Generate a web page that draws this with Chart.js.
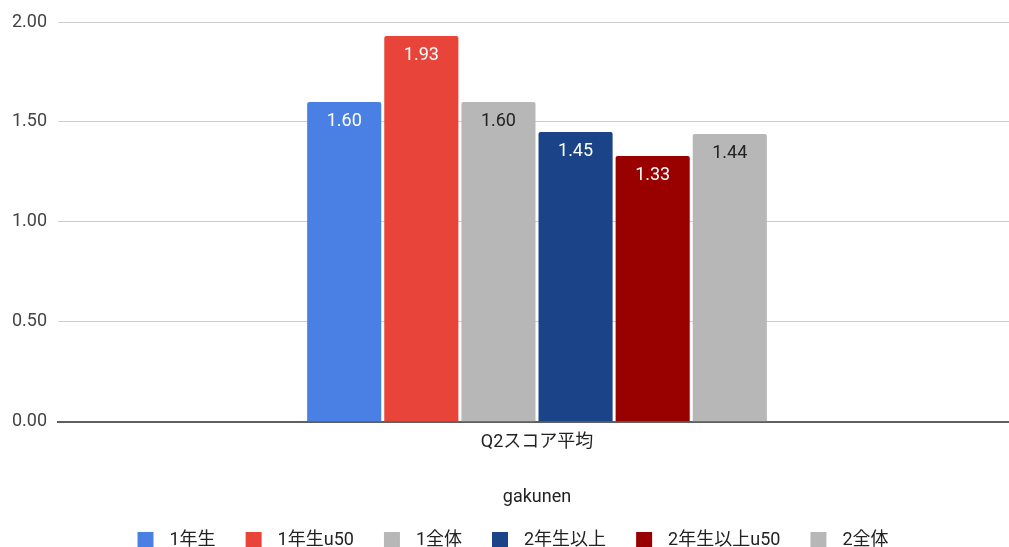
<!DOCTYPE html>
<html lang="ja">
  <head>
    <meta charset="UTF-8" />
    <title>Q2スコア平均</title>
    <script src="https://cdn.jsdelivr.net/npm/chart.js"></script>
    <style>
      html, body { margin: 0; padding: 0; background: #fff; overflow: hidden; }
      /* a bit wider than the window so the group sits where the reference has it */
      #wrap { width: 1016px; height: 547px; }
    </style>
  </head>
  <body>
    <div id="wrap"><canvas id="chart"></canvas></div>

    <script>
      // data
      const categories = ["Q2スコア平均"];
      const seriesNames = ["1年生", "1年生u50", "1全体", "2年生以上", "2年生以上u50", "2全体"];
      const seriesValues = [1.60, 1.93, 1.60, 1.45, 1.33, 1.44];
      const seriesColors = ["#4a80e4", "#e8443a", "#b7b7b7", "#1a4388", "#990000", "#b7b7b7"];
      const labelColors = ["#ffffff", "#ffffff", "#222222", "#ffffff", "#ffffff", "#222222"];
      const yTicks = [0, 0.5, 1, 1.5, 2];

      const FONT = "Roboto, 'Noto Sans CJK JP', sans-serif";

      // legend marker: blank lead-in, 16px square, small gap (Chart.js puts text right after)
      const LEAD = 20, SQ = 16, TAIL = 7;
      function legendMarker(color) {
        const c = document.createElement("canvas");
        c.width = LEAD + SQ + TAIL;
        c.height = SQ;
        const g = c.getContext("2d");
        g.fillStyle = color;
        g.fillRect(LEAD, 0, SQ, SQ);
        return c;
      }

      // draws the value inside each bar near its top
      const barValueLabels = {
        id: "barValueLabels",
        afterDatasetsDraw(chart) {
          const ctx = chart.ctx;
          ctx.save();
          ctx.font = "18px " + FONT;
          ctx.textAlign = "center";
          ctx.textBaseline = "middle";
          chart.data.datasets.forEach((ds, i) => {
            const meta = chart.getDatasetMeta(i);
            meta.data.forEach((bar, j) => {
              ctx.fillStyle = labelColors[i];
              ctx.fillText(ds.data[j].toFixed(2), bar.x, bar.y + 20);
            });
          });
          ctx.restore();
        },
      };

      // nudge the legend row a little to the left
      const legendNudge = {
        id: "legendNudge",
        afterLayout(chart) {
          chart.legend.left -= 5;
          chart.legend.right -= 5;
        },
      };

      const ctx = document.getElementById("chart").getContext("2d");
      new Chart(ctx, {
        type: "bar",
        data: {
          labels: categories,
          datasets: seriesNames.map((name, i) => ({
            label: name,
            data: [seriesValues[i]],
            backgroundColor: seriesColors[i],
            pointStyle: legendMarker(seriesColors[i]),
            borderRadius: { topLeft: 2, topRight: 2 },
            borderSkipped: "bottom",
            barPercentage: 0.961,
            categoryPercentage: 0.483,
          })),
        },
        options: {
          responsive: true,
          maintainAspectRatio: false,
          animation: false,
          layout: { padding: { top: 22, right: 0, left: 0, bottom: -12 } },
          plugins: {
            legend: {
              position: "bottom",
              labels: {
                usePointStyle: true,
                pointStyleWidth: LEAD + SQ + TAIL,
                boxHeight: 16,
                padding: 10,
                color: "#222",
                font: { family: FONT, size: 18 },
              },
            },
            tooltip: { enabled: false },
          },
          scales: {
            x: {
              grid: { display: false },
              border: { color: "#5f5f5f", width: 2 },
              ticks: { color: "#222", font: { family: FONT, size: 18 }, padding: 2 },
              title: {
                display: true,
                text: "gakunen",
                color: "#222",
                font: { family: FONT, size: 18 },
                padding: { top: 31, bottom: 13 },
              },
            },
            y: {
              min: 0,
              max: 2,
              afterBuildTicks(scale) {
                scale.ticks = yTicks.map((v) => ({ value: v }));
              },
              afterFit(scale) {
                scale.width = 58;
              },
              grid: {
                color: "#cccccc",
                drawTicks: false,
              },
              border: { display: false },
              ticks: {
                color: "#444",
                padding: 11,
                font: { family: FONT, size: 18 },
                callback: (v) => Number(v).toFixed(2),
              },
            },
          },
        },
        plugins: [barValueLabels, legendNudge],
      });
    </script>
  </body>
</html>
